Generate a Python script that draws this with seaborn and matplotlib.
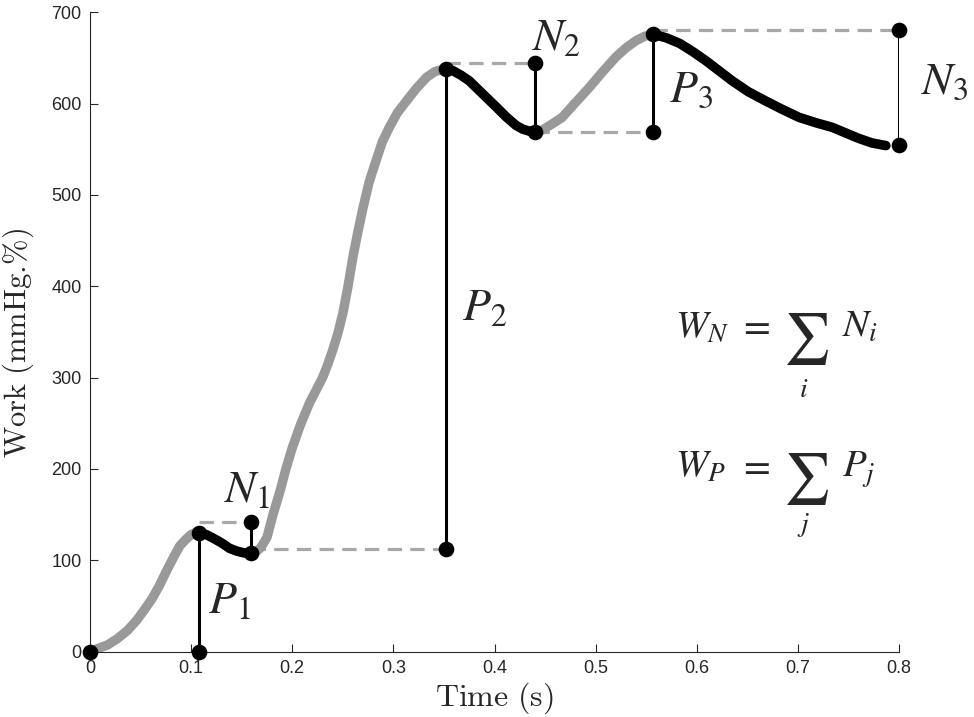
import numpy as np
import pandas as pd
import matplotlib
matplotlib.use("Agg")
import matplotlib.pyplot as plt
import seaborn as sns

# work curve (time in s, work in mmHg.%)
time_s = [0.000, 0.007, 0.017, 0.027, 0.037, 0.046, 0.054, 0.062, 0.069,
          0.076, 0.083, 0.089, 0.095, 0.100, 0.104, 0.108, 0.115, 0.122,
          0.130, 0.138, 0.145, 0.152, 0.159, 0.164, 0.169, 0.175, 0.181,
          0.188, 0.194, 0.200, 0.208, 0.217, 0.224, 0.230, 0.235, 0.240,
          0.245, 0.250, 0.255, 0.260, 0.265, 0.270, 0.276, 0.283, 0.289,
          0.296, 0.304, 0.313, 0.323, 0.333, 0.341, 0.347, 0.352, 0.359,
          0.367, 0.375, 0.388, 0.402, 0.412, 0.4215, 0.428, 0.434, 0.4405,
          0.447, 0.456, 0.467, 0.480, 0.494, 0.507, 0.520, 0.530, 0.540,
          0.549, 0.557, 0.570, 0.583, 0.596, 0.609, 0.622, 0.635, 0.651,
          0.668, 0.684, 0.701, 0.718, 0.734, 0.747, 0.760, 0.773, 0.787]
work = [0, 3, 7, 14, 23, 34, 46, 59, 73,
        89, 104, 116, 123, 128, 130, 130, 128, 124,
        119, 113, 110, 108, 108, 109, 114, 125, 150,
        176, 201, 223, 248, 272, 287, 300, 314, 330,
        348, 370, 399, 432, 460, 486, 514, 538, 558,
        574, 590, 603, 617, 629, 635, 637, 638, 636,
        631, 625, 611, 596, 585, 576, 572, 570, 569,
        571, 577, 585, 601, 618, 635, 651, 661, 669,
        674, 676, 672, 666, 657, 647, 636, 625, 613,
        603, 594, 585, 579, 574, 568, 562, 557, 554]

# falling stretches (start time, end time)
falls = [(0.108, 0.159), (0.352, 0.4405), (0.557, 0.787)]

# vertical markers: x, y bottom, y top
seg_x = [0.108, 0.159, 0.352, 0.4405, 0.557, 0.800]
seg_lo = [0, 108, 112, 569, 569, 555]
seg_hi = [130, 142, 638, 644, 676, 681]

# dashed guides: y, x start, x end
guide_y = [142, 112, 645, 569, 681]
guide_x0 = [0.108, 0.159, 0.352, 0.4405, 0.557]
guide_x1 = [0.159, 0.352, 0.4405, 0.557, 0.800]

# labels
lab_text = [r"$N_1$", r"$P_1$", r"$P_2$", r"$N_2$", r"$P_3$", r"$N_3$"]
lab_x = [0.133, 0.117, 0.368, 0.4375, 0.573, 0.822]
lab_y = [164, 42, 363, 659, 602, 610]

df = pd.DataFrame({"Time": time_s, "Work": work})

sns.set_style("ticks")
plt.rcParams["font.family"] = ["Liberation Sans", "DejaVu Sans"]

fig = plt.figure(figsize=(9.74, 7.17), dpi=100)
ax = fig.add_axes([90 / 974, 1 - 651.5 / 717, 809 / 974, 639.2 / 717])

for y, x0, x1 in zip(guide_y, guide_x0, guide_x1):
    ax.plot([x0, x1], [y, y], color="#a8a8a8", lw=2.3, ls=(0, (4.5, 2.6)), zorder=1)

sns.lineplot(data=df, x="Time", y="Work", color="#999999", lw=6.8,
             sort=False, estimator=None, ax=ax, zorder=2)
for t0, t1 in falls:
    part = df[(df["Time"] >= t0) & (df["Time"] <= t1)]
    sns.lineplot(data=part, x="Time", y="Work", color="black", lw=6.8,
                 sort=False, estimator=None, ax=ax, zorder=3)

ax.vlines(seg_x, seg_lo, seg_hi, color="black", lw=2.2, zorder=4)
dots_x = [0.0] + seg_x + seg_x
dots_y = [0] + seg_lo + seg_hi
ax.scatter(dots_x, dots_y, s=105, color="black", zorder=5, clip_on=False)

for txt, x, y in zip(lab_text, lab_x, lab_y):
    ax.text(x, y, txt, fontsize=33, math_fontfamily="stix", ha="left", va="baseline")

# the two sums, built piece by piece
mfs = 28
for lhs, sub, term, base, sub_y in [(r"$W_N$", r"$i$", r"$N_i$", 344, 286),
                                    (r"$W_P$", r"$j$", r"$P_j$", 191, 138)]:
    ax.text(0.578, base, lhs, fontsize=mfs, math_fontfamily="stix", ha="left", va="baseline")
    ax.text(0.657, base, r"$=$", fontsize=mfs, math_fontfamily="stix", ha="center", va="baseline")
    ax.text(0.708, base - 2, r"$\sum$", fontsize=37, math_fontfamily="stix", ha="center", va="center")
    ax.text(0.706, sub_y, sub, fontsize=20, math_fontfamily="stix", ha="center", va="center")
    ax.text(0.744, base, term, fontsize=mfs, math_fontfamily="stix", ha="left", va="baseline")

ax.set_xlim(0, 0.8)
ax.set_ylim(0, 700)
ax.set_xticks(np.arange(0, 0.81, 0.1))
ax.set_xticklabels(["0", "0.1", "0.2", "0.3", "0.4", "0.5", "0.6", "0.7", "0.8"])
ax.set_yticks(np.arange(0, 701, 100))
ax.tick_params(direction="in", length=6, width=0.8, labelsize=13, pad=6,
               colors="#262626")
sns.despine(ax=ax)
for sp in ["left", "bottom"]:
    ax.spines[sp].set_color("#262626")
    ax.spines[sp].set_linewidth(0.8)

ax.set_xlabel(r"$\mathrm{Time\ (s)}$", fontsize=23, math_fontfamily="cm",
              color="#262626", labelpad=3)
ax.set_ylabel(r"$\mathrm{Work\ (mmHg.\!\%)}$", fontsize=22, math_fontfamily="cm",
              color="#262626")
ax.yaxis.set_label_coords(-0.067, 0.483)

fig.savefig("out.png", dpi=100)
